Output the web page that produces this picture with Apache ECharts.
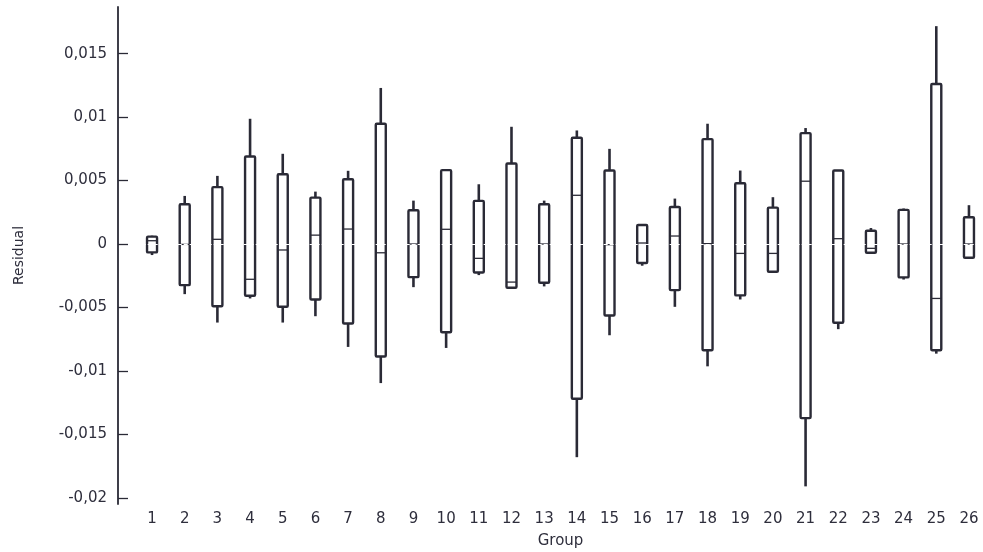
<!DOCTYPE html>
<html>
<head>
<meta charset="utf-8">
<script src="https://cdn.jsdelivr.net/npm/echarts@6/dist/echarts.min.js"></script>
<style>
  html, body { margin: 0; padding: 0; background: #fff; }
  #chart { width: 983px; height: 552px; }
</style>
</head>
<body>
<div id="chart"></div>
<script>
// Groups (x categories)
const groups = ['1','2','3','4','5','6','7','8','9','10','11','12','13','14','15','16','17','18','19','20','21','22','23','24','25','26'];

// Residual box statistics per group
const whiskerHigh = [0.00066, 0.00379, 0.00537, 0.00987, 0.00711, 0.00413, 0.00577, 0.01230, 0.00342, 0.00582, 0.00471, 0.00924, 0.00342, 0.00895, 0.00750, 0.00155, 0.00358, 0.00948, 0.00579, 0.00369, 0.00914, 0.00579, 0.00126, 0.00280, 0.01717, 0.00306];
const q3          = [0.00058, 0.00313, 0.00448, 0.00690, 0.00550, 0.00366, 0.00511, 0.00948, 0.00266, 0.00582, 0.00340, 0.00634, 0.00313, 0.00837, 0.00579, 0.00150, 0.00292, 0.00827, 0.00479, 0.00287, 0.00874, 0.00579, 0.00105, 0.00269, 0.01261, 0.00211];
const median      = [0.00026, -0.00003, 0.00037, -0.00278, -0.00047, 0.00070, 0.00118, -0.00069, 0.00000, 0.00116, -0.00113, -0.00300, 0.00000, 0.00384, -0.00005, 0.00008, 0.00063, 0.00003, -0.00074, -0.00074, 0.00495, 0.00042, -0.00034, 0.00000, -0.00429, 0.00000];
const q1          = [-0.00066, -0.00324, -0.00490, -0.00408, -0.00495, -0.00437, -0.00627, -0.00887, -0.00261, -0.00695, -0.00224, -0.00345, -0.00305, -0.01220, -0.00563, -0.00150, -0.00363, -0.00837, -0.00405, -0.00219, -0.01372, -0.00621, -0.00069, -0.00263, -0.00837, -0.00108];
const whiskerLow  = [-0.00087, -0.00395, -0.00619, -0.00429, -0.00619, -0.00569, -0.00811, -0.01096, -0.00340, -0.00819, -0.00245, -0.00345, -0.00334, -0.01680, -0.00719, -0.00171, -0.00495, -0.00964, -0.00437, -0.00219, -0.01910, -0.00671, -0.00075, -0.00280, -0.00864, -0.00108];

// Y tick values
const yTicks = [-0.02, -0.015, -0.01, -0.005, 0, 0.005, 0.01, 0.015];

const seriesData = groups.map((g, i) => [i, whiskerLow[i], q1[i], median[i], q3[i], whiskerHigh[i]]);

const INK = '#2a2a36';
const TEXT = '#2e2e3c';

function renderItem(params, api) {
  const x = api.value(0);
  const pMin = api.coord([x, api.value(1)]);
  const pQ1 = api.coord([x, api.value(2)]);
  const pMed = api.coord([x, api.value(3)]);
  const pQ3 = api.coord([x, api.value(4)]);
  const pMax = api.coord([x, api.value(5)]);
  const cx = pQ1[0];
  const w = 10;
  const children = [];
  if (pMax[1] < pQ3[1] - 0.5) {
    children.push({ type: 'line', shape: { x1: cx, y1: pMax[1], x2: cx, y2: pQ3[1] },
      style: { stroke: INK, lineWidth: 2.6, lineCap: 'butt' } });
  }
  if (pMin[1] > pQ1[1] + 0.5) {
    children.push({ type: 'line', shape: { x1: cx, y1: pQ1[1], x2: cx, y2: pMin[1] },
      style: { stroke: INK, lineWidth: 2.6, lineCap: 'butt' } });
  }
  children.push({ type: 'rect', shape: { x: cx - w / 2, y: pQ3[1], width: w, height: pQ1[1] - pQ3[1], r: 1 },
    style: { fill: '#ffffff', stroke: INK, lineWidth: 2.4 } });
  children.push({ type: 'line', shape: { x1: cx - w / 2, y1: pMed[1], x2: cx + w / 2, y2: pMed[1] },
    style: { stroke: INK, lineWidth: 1.3 } });
  return { type: 'group', children: children };
}

const chart = echarts.init(document.getElementById('chart'), null, { renderer: 'canvas' });
chart.setOption({
  animation: false,
  backgroundColor: '#ffffff',
  textStyle: { fontFamily: 'DejaVu Sans' },
  grid: { left: 135.7, right: -2.3, top: 7, bottom: 48, containLabel: false, outerBoundsMode: 'none' },
  xAxis: {
    type: 'category',
    data: groups,
    boundaryGap: true,
    axisLine: { show: false },
    axisTick: { show: false },
    axisLabel: { color: TEXT, fontSize: 15, fontFamily: 'DejaVu Sans', margin: 8, interval: 0 },
    name: 'Group',
    nameLocation: 'middle',
    nameGap: 30,
    nameTextStyle: { color: TEXT, fontSize: 15, fontFamily: 'DejaVu Sans' },
    splitLine: { show: false }
  },
  yAxis: {
    type: 'value',
    min: -0.02049,
    max: 0.01868,
    offset: 17.7,
    axisLine: { show: true, lineStyle: { color: INK, width: 1.8 } },
    axisTick: { show: true, inside: true, length: 10, customValues: yTicks, lineStyle: { color: INK, width: 1.3 } },
    axisLabel: {
      color: TEXT, fontSize: 15, fontFamily: 'DejaVu Sans', margin: 11,
      customValues: yTicks,
      formatter: v => String(Math.round(v * 1000) / 1000).replace('.', ',')
    },
    splitLine: { show: false },
    name: 'Residual',
    nameLocation: 'middle',
    nameGap: 92,
    nameRotate: 90,
    nameTextStyle: { color: TEXT, fontSize: 14, fontFamily: 'DejaVu Sans' }
  },
  series: [{
    type: 'custom',
    renderItem: renderItem,
    encode: { x: 0, y: [1, 2, 3, 4, 5] },
    data: seriesData,
    z: 2,
    markLine: {
      silent: true,
      symbol: 'none',
      z: 5,
      label: { show: false },
      lineStyle: { color: '#ffffff', width: 1, type: [4, 2] },
      emphasis: { disabled: true },
      data: [{ yAxis: 0 }]
    }
  }]
});
</script>
</body>
</html>
